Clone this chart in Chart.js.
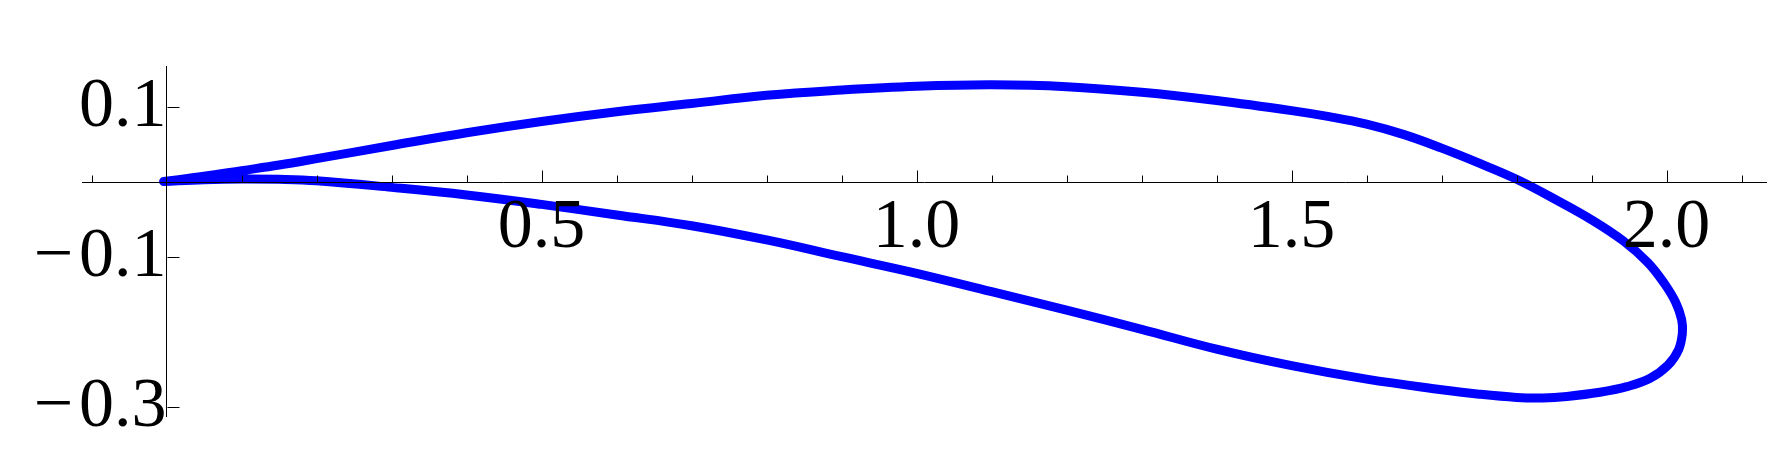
<!DOCTYPE html>
<html>
<head>
<meta charset="utf-8">
<script src="https://cdn.jsdelivr.net/npm/chart.js@4.4.1/dist/chart.umd.min.js"></script>
<style>
  html, body { margin: 0; padding: 0; background: #ffffff; }
  #wrap { position: relative; width: 1776px; height: 474px; }
</style>
</head>
<body>
<div id="wrap"><canvas id="c"></canvas></div>
<script>
// Curve points (parametric loop: upper surface left->right, round end, lower surface right->left)
const xs = [-0.004, 0.05, 0.1, 0.15, 0.2, 0.3, 0.4, 0.5, 0.6, 0.7, 0.8, 0.9, 1.0, 1.1, 1.2, 1.3, 1.4, 1.5, 1.55, 1.6, 1.65, 1.7, 1.75, 1.8, 1.853, 1.9, 1.942, 1.975, 1.997, 2.012, 2.020, 2.021, 2.016, 2.002, 1.978, 1.947, 1.911, 1.867, 1.835, 1.8, 1.75, 1.7, 1.6, 1.5, 1.4, 1.3, 1.2, 1.1, 1.0, 0.9, 0.8, 0.7, 0.6, 0.5, 0.4, 0.3, 0.2, 0.15, 0.1, 0.05, -0.004];
const ys = [0.001, 0.008, 0.0155, 0.023, 0.0315, 0.049, 0.066, 0.081, 0.094, 0.105, 0.116, 0.123, 0.128, 0.130, 0.1275, 0.120, 0.109, 0.0955, 0.0875, 0.0775, 0.0635, 0.0455, 0.0255, 0.004, -0.0236, -0.050, -0.078, -0.107, -0.135, -0.160, -0.183, -0.201, -0.223, -0.2436, -0.2613, -0.2725, -0.280, -0.2855, -0.2875, -0.2868, -0.2825, -0.2765, -0.2625, -0.2445, -0.2225, -0.196, -0.1703, -0.1458, -0.1213, -0.0992, -0.0769, -0.0579, -0.0436, -0.0295, -0.0169, -0.0068, 0.002, 0.004, 0.0045, 0.0035, 0.001];

const xMajorTicks = [0.5, 1.0, 1.5, 2.0];
const xTickLabels = ['0.5', '1.0', '1.5', '2.0'];
const xMinorTicks = [-0.1, 0.1, 0.2, 0.3, 0.4, 0.6, 0.7, 0.8, 0.9, 1.1, 1.2, 1.3, 1.4, 1.6, 1.7, 1.8, 1.9, 2.1];
const yTicks = [0.1, -0.1, -0.3];
const yTickLabels = ['0.1', '\u2212\u200A0.1', '\u2212\u200A0.3'];

const xMin = -0.1124, xMax = 2.1325;
const yMin = -0.3116, yMax = 0.1541;

const points = xs.map((x, i) => ({ x: x, y: ys[i] }));
const tickFont = { family: "'Liberation Serif', 'Times New Roman', serif", size: 70 };

const tickMarks = {
  id: 'tickMarks',
  afterDraw(chart) {
    const ctx = chart.ctx;
    const xs_ = chart.scales.x, ys_ = chart.scales.y;
    const y0 = Math.round(ys_.getPixelForValue(0)) + 0.5;
    const x0 = Math.round(xs_.getPixelForValue(0)) + 0.5;
    ctx.save();
    ctx.strokeStyle = '#000000';
    ctx.lineWidth = 1;
    ctx.beginPath();
    xMajorTicks.forEach(v => {
      const px = Math.round(xs_.getPixelForValue(v)) + 0.5;
      ctx.moveTo(px, y0); ctx.lineTo(px, y0 - 12);
    });
    xMinorTicks.forEach(v => {
      const px = Math.round(xs_.getPixelForValue(v)) + 0.5;
      ctx.moveTo(px, y0); ctx.lineTo(px, y0 - 7);
    });
    yTicks.forEach(v => {
      const py = Math.round(ys_.getPixelForValue(v)) + 0.5;
      ctx.moveTo(x0, py); ctx.lineTo(x0 + 12, py);
    });
    ctx.stroke();
    ctx.restore();
  }
};

new Chart(document.getElementById('c'), {
  type: 'scatter',
  data: {
    datasets: [{
      data: points,
      showLine: true,
      borderColor: '#0000ff',
      backgroundColor: '#0000ff',
      borderWidth: 9,
      pointRadius: 0,
      tension: 0.4,
      borderCapStyle: 'round',
      borderJoinStyle: 'round',
      fill: false
    }]
  },
  options: {
    responsive: true,
    maintainAspectRatio: false,
    animation: false,
    devicePixelRatio: 1,
    layout: { padding: { left: 82.3, top: 66.7, right: 10, bottom: 58 } },
    plugins: { legend: { display: false }, tooltip: { enabled: false } },
    scales: {
      x: {
        type: 'linear',
        position: { y: 0 },
        min: xMin, max: xMax,
        afterBuildTicks: (scale) => { scale.ticks = xMajorTicks.map(v => ({ value: v })); },
        ticks: {
          autoSkip: false, maxRotation: 0, minRotation: 0,
          color: '#000000', font: tickFont, padding: 4, z: 1,
          callback: (v) => { const i = xMajorTicks.indexOf(v); return i >= 0 ? xTickLabels[i] : ''; }
        },
        grid: { display: true, drawOnChartArea: false, drawTicks: false, lineWidth: 1, z: 1 },
        border: { display: true, color: '#000000', width: 1, z: 1 }
      },
      y: {
        type: 'linear',
        position: { x: 0 },
        min: yMin, max: yMax,
        afterBuildTicks: (scale) => { scale.ticks = yTicks.map(v => ({ value: v })); },
        ticks: {
          autoSkip: false, color: '#000000', font: tickFont, padding: 13, z: 1,
          callback: (v) => { const i = yTicks.indexOf(v); return i >= 0 ? yTickLabels[i] : ''; }
        },
        grid: { display: true, drawOnChartArea: false, drawTicks: false, lineWidth: 1, z: 1 },
        border: { display: true, color: '#000000', width: 1, z: 1 }
      }
    }
  },
  plugins: [tickMarks]
});
</script>
</body>
</html>
